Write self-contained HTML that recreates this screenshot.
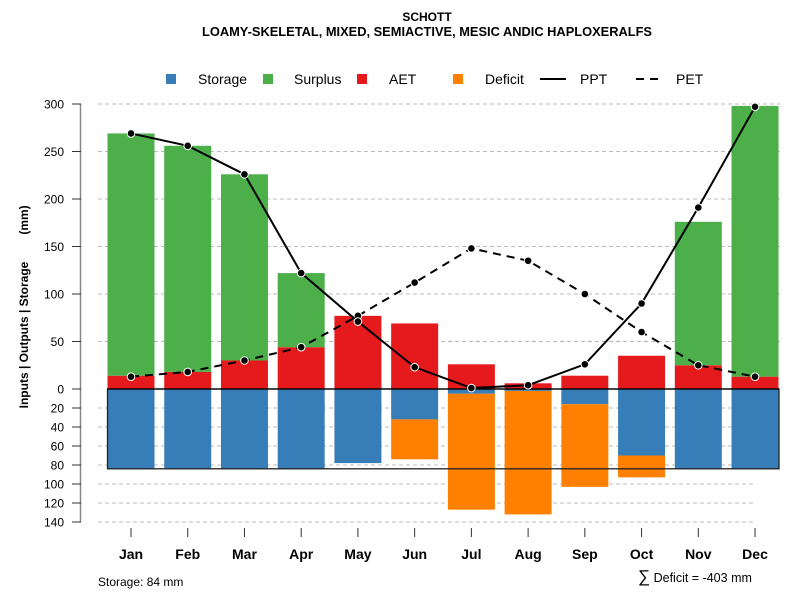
<!DOCTYPE html>
<html><head><meta charset="utf-8"><style>
body{margin:0;background:#fff}
svg text{font-family:"Liberation Sans",Arial,sans-serif}
</style></head><body>
<svg id="chart" width="800" height="600" xmlns="http://www.w3.org/2000/svg">
<text x="427" y="21" text-anchor="middle" font-size="12" font-weight="bold">SCHOTT</text>
<text x="202" y="36" textLength="450" lengthAdjust="spacingAndGlyphs" font-size="12.5" font-weight="bold">LOAMY-SKELETAL, MIXED, SEMIACTIVE, MESIC ANDIC HAPLOXERALFS</text>
<g id="legend">
<rect x="166" y="74" width="10" height="10" fill="#377eb8"/>
<text x="198" y="84" font-size="14">Storage</text>
<rect x="263" y="74" width="10" height="10" fill="#4daf4a"/>
<text x="294" y="84" font-size="14">Surplus</text>
<rect x="357" y="74" width="10" height="10" fill="#e41a1c"/>
<text x="389" y="84" font-size="14">AET</text>
<rect x="453" y="74" width="10" height="10" fill="#ff7f00"/>
<text x="485" y="84" font-size="14">Deficit</text>
<line x1="540" y1="79" x2="566" y2="79" stroke="#000" stroke-width="2"/>
<text x="580" y="84" font-size="14">PPT</text>
<line x1="636" y1="79" x2="664" y2="79" stroke="#000" stroke-width="2" stroke-dasharray="8,6"/>
<text x="676" y="84" font-size="14">PET</text>
</g>
<text transform="translate(28,335) rotate(-90)" text-anchor="middle" font-size="12" font-weight="bold">Inputs | Outputs | Storage</text>
<text transform="translate(28,220) rotate(-90)" text-anchor="middle" font-size="12" font-weight="bold">(mm)</text>
<text x="98" y="586" font-size="12">Storage: 84 mm</text>
<text x="638" y="582" font-size="12.5"><tspan font-size="17">∑</tspan> Deficit = -403 mm</text>
<g id="grid"></g><g id="bars"></g><g id="lines"></g><g id="axes"></g>
</svg>
<script>
const months=["Jan","Feb","Mar","Apr","May","Jun","Jul","Aug","Sep","Oct","Nov","Dec"];
const aet=[14,18,30,44,77,69,26,6,14,35,25,13];
const surplus=[255,238,196,78,0,0,0,0,0,0,151,285];
const storage=[84,84,84,84,78,32,5,2,16,70,84,84];
const deficit=[0,0,0,0,0,42,122,130,87,23,0,0];
const ppt=[269,256,226,122,71,23,1,4,26,90,191,297];
const pet=[13,18,30,44,77,112,148,135,100,60,25,13];
const upTicks=[0,50,100,150,200,250,300];
const downTicks=[20,40,60,80,100,120,140];
const storageMax=84;

const NS="http://www.w3.org/2000/svg";
const y0=389,k=0.95;
const yUp=v=>y0-v*k, yDn=v=>y0+v*k;
const xc=i=>131+i*56.73;
const bw=47;
function mk(p,tag,a){const e=document.createElementNS(NS,tag);for(const n in a)e.setAttribute(n,a[n]);document.getElementById(p).appendChild(e);return e;}
upTicks.forEach(t=>{if(t===0)return;
 const g=mk('grid','line',{x1:98,x2:780,y1:yUp(t),y2:yUp(t),stroke:'#bbb','stroke-dasharray':'4,3'});
 
 });
downTicks.forEach(t=>{
 const g=mk('grid','line',{x1:98,x2:755,y1:yDn(t),y2:yDn(t),stroke:'#bbb','stroke-dasharray':'4,3'});
 
 });
months.forEach((m,i)=>{
 const x=xc(i)-bw/2;
 let r=mk('bars','rect',{x:x,y:yUp(aet[i]),width:bw,height:aet[i]*k,fill:'#e41a1c'});
 
 
 if(surplus[i]>0){r=mk('bars','rect',{x:x,y:yUp(aet[i]+surplus[i]),width:bw,height:surplus[i]*k,fill:'#4daf4a'});
 
 }
 r=mk('bars','rect',{x:x,y:y0,width:bw,height:storage[i]*k,fill:'#377eb8'});
 
 
 if(deficit[i]>0){r=mk('bars','rect',{x:x,y:yDn(storage[i]),width:bw,height:deficit[i]*k,fill:'#ff7f00'});
 
 }
});
let box=mk('bars','rect',{x:107.5,y:y0,width:671.5,height:storageMax*k,fill:'none',stroke:'#222','stroke-width':1.3});


let zl=mk('bars','line',{x1:107,x2:779,y1:y0,y2:y0,stroke:'#000','stroke-width':1.3});


function series(arr,name,dash){
 const pts=arr.map((v,i)=>xc(i)+','+yUp(v)).join(' ');
 const a={points:pts,fill:'none',stroke:'#000','stroke-width':2};if(dash)a['stroke-dasharray']='8,6';
 const l=mk('lines','polyline',a);
 
 
 arr.forEach((v,i)=>{const c=mk('lines','circle',{cx:xc(i),cy:yUp(v),r:3.8,fill:'#000',stroke:'#fff','stroke-width':1});
 
 });
}
series(pet,'pet',true);series(ppt,'ppt',false);
let ax=mk('axes','line',{x1:80.5,x2:80.5,y1:yUp(300),y2:yDn(140),stroke:'#888','stroke-width':1.5});


function tick(y,lab){
 const t=mk('axes','line',{x1:72,x2:81,y1:y,y2:y,stroke:'#333'});
 
 
 const tx=mk('axes','text',{x:64,y:y+4.5,'text-anchor':'end','font-size':12});tx.textContent=lab;
 
 
}
upTicks.forEach(t=>tick(yUp(t),t));downTicks.forEach(t=>tick(yDn(t),t));
months.forEach((m,i)=>{
 const t=mk('axes','line',{x1:xc(i),x2:xc(i),y1:528,y2:537,stroke:'#333'});
 
 
 const tx=mk('axes','text',{x:xc(i),y:559,'text-anchor':'middle','font-size':14,'font-weight':'bold'});tx.textContent=m;
 
 
});
</script>
</body></html>
